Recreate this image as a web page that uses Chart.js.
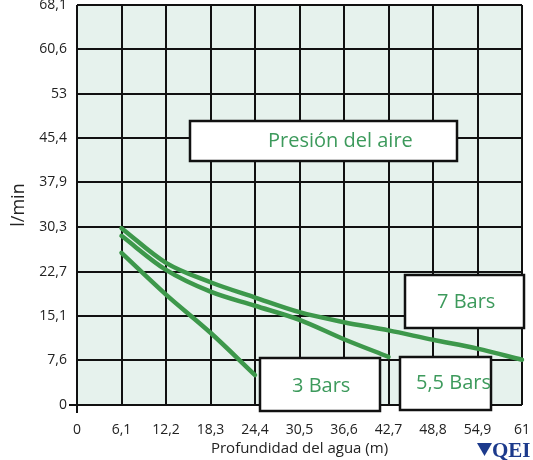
<!DOCTYPE html>
<html>
<head>
<meta charset="utf-8">
<script src="https://cdn.jsdelivr.net/npm/chart.js@4/dist/chart.umd.min.js"></script>
<style>
html,body{margin:0;padding:0;background:#fff;}
#c{display:block;}
</style>
</head>
<body>
<canvas id="c" width="533" height="460"></canvas>
<script>
// ---- data ----
const depthTicks = [0, 6.1, 12.2, 18.3, 24.4, 30.5, 36.6, 42.7, 48.8, 54.9, 61];
const depthTickLabels = ["0", "6,1", "12,2", "18,3", "24,4", "30,5", "36,6", "42,7", "48,8", "54,9", "61"];
const flowTicks = [0, 7.6, 15.1, 22.7, 30.3, 37.9, 45.4, 53, 60.6, 68.1];
const flowTickLabels = ["0", "7,6", "15,1", "22,7", "30,3", "37,9", "45,4", "53", "60,6", "68,1"];

const depth = [6.1, 12.2, 18.3, 24.4, 30.5, 36.6, 42.7, 48.8, 54.9, 61];
const bars7 = [30.1, 24.2, 20.9, 18.3, 15.8, 14.1, 12.7, 11.1, 9.6, 7.7];
const bars55 = [28.8, 23.0, 19.3, 16.9, 14.5, 11.2, 8.2];
const bars3 = [25.9, 18.8, 12.3, 5.1];

const seriesNames = ["7 Bars", "5,5 Bars", "3 Bars"];
const legendTitle = "Presión del aire";
const xTitle = "Profundidad del agua (m)";
const yTitle = "l/min";
const brand = "QEI";

const GREEN = '#3d984b';
const TEXT_GREEN = '#3d9a5c';
const FONT = '"Open Sans", "Noto Sans", sans-serif';

function pts(ys) { return ys.map((y, i) => ({x: depth[i], y: y})); }

const bgPlugin = {
  id: 'bg',
  beforeDraw(chart) {
    const a = chart.chartArea, ctx = chart.ctx;
    ctx.save();
    ctx.fillStyle = '#e6f2ed';
    ctx.fillRect(a.left, a.top, a.right - a.left, a.bottom - a.top);
    ctx.restore();
  }
};

function box(ctx, x, y, w, h, text, tx, ty) {
  ctx.save();
  ctx.fillStyle = '#ffffff';
  ctx.fillRect(x, y, w, h);
  ctx.lineWidth = 2.5;
  ctx.strokeStyle = '#111';
  ctx.strokeRect(x, y, w, h);
  ctx.fillStyle = TEXT_GREEN;
  ctx.font = '20px ' + FONT;
  ctx.textBaseline = 'middle';
  ctx.textAlign = 'left';
  ctx.fillText(text, tx, ty);
  ctx.restore();
}

const notePlugin = {
  id: 'notes',
  afterDatasetsDraw(chart) {
    const ctx = chart.ctx;
    box(ctx, 190, 121, 267, 40, legendTitle, 268, 141);
    box(ctx, 405, 275, 119, 53, seriesNames[0], 437, 302);
    box(ctx, 260, 358, 120, 53, seriesNames[2], 292, 386);
    box(ctx, 400, 357, 91, 53, seriesNames[1], 416, 383);
  },
  afterDraw(chart) {
    const ctx = chart.ctx;
    ctx.save();
    ctx.fillStyle = '#1c3a8c';
    ctx.beginPath();
    ctx.moveTo(477, 443);
    ctx.lineTo(492, 443);
    ctx.lineTo(484.5, 456);
    ctx.closePath();
    ctx.fill();
    ctx.font = 'bold 21px "Liberation Serif", serif';
    ctx.textBaseline = 'alphabetic';
    ctx.fillText(brand, 492, 457);
    ctx.restore();
  }
};

new Chart(document.getElementById('c'), {
  type: 'line',
  data: {
    datasets: [
      {label: seriesNames[0], data: pts(bars7)},
      {label: seriesNames[1], data: pts(bars55)},
      {label: seriesNames[2], data: pts(bars3)}
    ].map(d => Object.assign(d, {
      borderColor: GREEN, borderWidth: 4.5, pointRadius: 0,
      cubicInterpolationMode: 'monotone',
      fill: false, borderCapStyle: 'round', clip: false
    }))
  },
  options: {
    responsive: false,
    animation: false,
    devicePixelRatio: 1,
    layout: {padding: {top: 5, right: 11, left: 0, bottom: 0}},
    plugins: {legend: {display: false}, tooltip: {enabled: false}},
    scales: {
      x: {
        type: 'linear', min: 0, max: 61,
        afterBuildTicks(s) { s.ticks = depthTicks.map(v => ({value: v})); },
        afterFit(s) { s.height = 55; s.paddingLeft = 0; s.paddingRight = 0; },
        ticks: {
          autoSkip: false, maxRotation: 0, padding: 9, color: '#222',
          font: {family: FONT, size: 14},
          callback: (v, i) => depthTickLabels[i]
        },
        grid: {
          color: '#111', lineWidth: 2, drawTicks: true, tickLength: 8,
          tickColor: c => (c.tick && c.tick.value === 0) ? '#111' : 'rgba(0,0,0,0)'
        },
        border: {display: false},
        title: {display: true, text: xTitle, color: '#222',
          font: {family: FONT, size: 15}, padding: {top: 0, bottom: 2}}
      },
      y: {
        type: 'linear', min: 0, max: 68.1,
        afterBuildTicks(s) { s.ticks = flowTicks.map(v => ({value: v})); },
        afterFit(s) { s.width = 77; s.paddingTop = 0; s.paddingBottom = 0; },
        ticks: {
          autoSkip: false, padding: 2, color: '#222',
          font: {family: FONT, size: 14},
          callback: (v, i) => flowTickLabels[i]
        },
        grid: {
          color: '#111', lineWidth: 2, drawTicks: true, tickLength: 8,
          tickColor: c => (c.tick && c.tick.value === 0) ? '#111' : 'rgba(0,0,0,0)'
        },
        border: {display: false},
        title: {display: true, text: yTitle, color: '#222',
          font: {family: FONT, size: 18}, padding: {top: 8, bottom: 0}}
      }
    }
  },
  plugins: [bgPlugin, notePlugin]
});
</script>
</body>
</html>
